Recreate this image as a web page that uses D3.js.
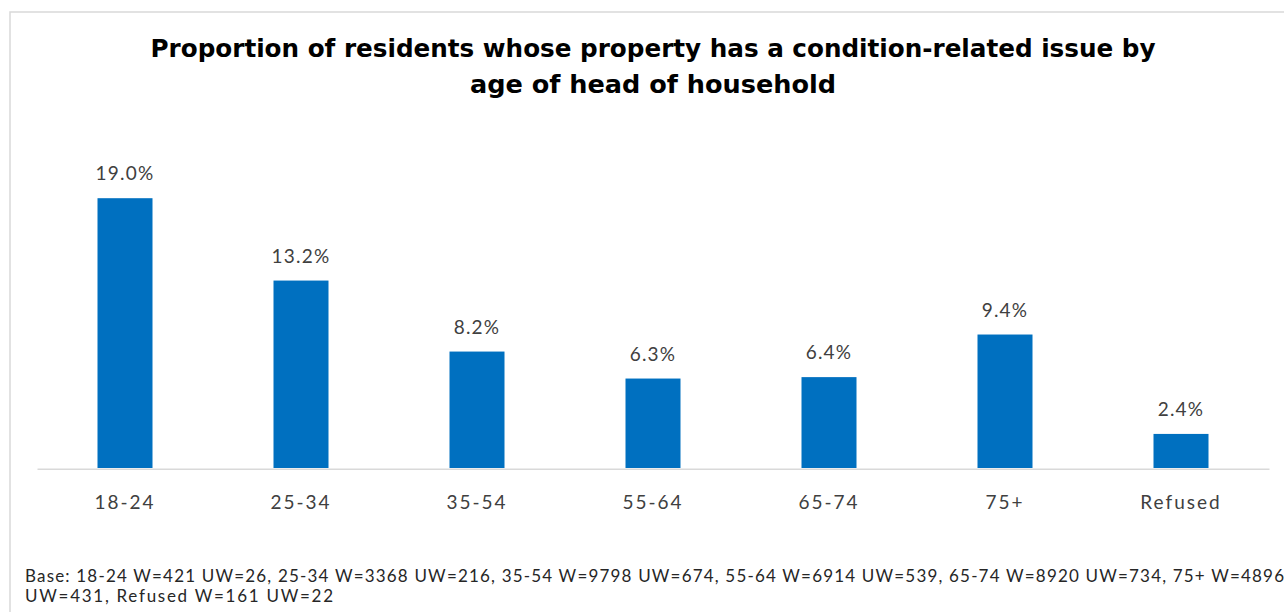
<!DOCTYPE html>
<html lang="en">
<head>
    <meta charset="UTF-8">
    <script src="https://d3js.org/d3.v7.min.js"></script>
    <title>Condition-related issue by age</title>
    <style>
        body { margin: 0; background: #fff; }
        text { font-family: "Century Gothic", "URW Gothic", "Lato", "Noto Sans", sans-serif; }
        .title { font-family: "Century Gothic", "DejaVu Sans", sans-serif; }
    </style>
</head>
<body>
    <div id="graph-div"></div>
    <script>
        // data
        const categories = ["18-24", "25-34", "35-54", "55-64", "65-74", "75+", "Refused"];
        const values = [19.0, 13.2, 8.2, 6.3, 6.4, 9.4, 2.4];
        const titleLines = [
            "Proportion of residents whose property has a condition-related issue by",
            "age of head of household"
        ];
        const baseLines = [
            "Base: 18-24 W=421 UW=26, 25-34 W=3368 UW=216, 35-54 W=9798 UW=674, 55-64 W=6914 UW=539, 65-74 W=8920 UW=734, 75+ W=4896",
            "UW=431, Refused W=161 UW=22"
        ];

        const w = 1284;
        const h = 612;
        const baseY = 468;
        const titleWidths = [1005, 366];
        const baseWidths = [1259, 308];

        const svg = d3.select("#graph-div")
                      .append("svg")
                      .attr("width", w)
                      .attr("height", h);

        // chart area border (top + left only visible)
        svg.append("path")
           .attr("d", "M10," + h + " L10,12 L" + w + ",12")
           .attr("fill", "none")
           .attr("stroke", "#d9d9d9")
           .attr("stroke-width", 1.5);

        //scale
        const xScale = d3.scaleBand()
                         .domain(categories)
                         .range([37, 1269])
                         .paddingInner(0.6875)
                         .paddingOuter(0.34375);

        const yScale = d3.scaleLinear()
                         .domain([0, 20])
                         .range([baseY, baseY - 284]);

        //title
        svg.append("g")
           .selectAll("text")
           .data(titleLines)
           .enter()
           .append("text")
           .attr("class", "title")
           .attr("x", 653)
           .attr("y", (d, i) => 57 + i * 36)
           .attr("text-anchor", "middle")
           .attr("font-size", "24px")
           .attr("font-weight", "bold")
           .attr("fill", "#000")
           .attr("textLength", (d, i) => titleWidths[i])
           .attr("lengthAdjust", "spacingAndGlyphs")
           .text(d => d);

        //bars
        svg.selectAll("rect.bar")
           .data(values)
           .enter()
           .append("rect")
           .attr("class", "bar")
           .attr("fill", "#0070c0")
           .attr("x", (d, i) => xScale(categories[i]))
           .attr("y", d => yScale(d))
           .attr("width", xScale.bandwidth())
           .attr("height", d => baseY - yScale(d));

        //value labels
        svg.selectAll("text.val")
           .data(values)
           .enter()
           .append("text")
           .attr("class", "val")
           .attr("x", (d, i) => xScale(categories[i]) + xScale.bandwidth() / 2)
           .attr("y", d => yScale(d) - 18)
           .attr("text-anchor", "middle")
           .attr("font-size", "19px")
           .attr("letter-spacing", "1.2px")
           .attr("fill", "#404040")
           .text(d => d.toFixed(1) + "%");

        //axis
        const xAxis = d3.axisBottom(xScale).tickSize(0).tickSizeOuter(0).tickPadding(27);
        const gx = svg.append("g")
                      .attr("id", "x-axis")
                      .attr("transform", "translate(0," + (baseY + 0.75) + ")")
                      .call(xAxis);
        gx.select(".domain")
          .attr("stroke", "#d9d9d9")
          .attr("stroke-width", 1.5);
        gx.selectAll(".tick text")
          .attr("font-size", "19px")
          .attr("letter-spacing", "2px")
          .attr("fill", "#404040");

        //base note
        svg.append("g")
           .selectAll("text")
           .data(baseLines)
           .enter()
           .append("text")
           .attr("x", 25)
           .attr("y", (d, i) => 582 + i * 20)
           .attr("font-size", "17px")
           .attr("fill", "#262626")
           .attr("textLength", (d, i) => baseWidths[i])
           .attr("lengthAdjust", "spacing")
           .text(d => d);
    </script>
</body>
</html>
